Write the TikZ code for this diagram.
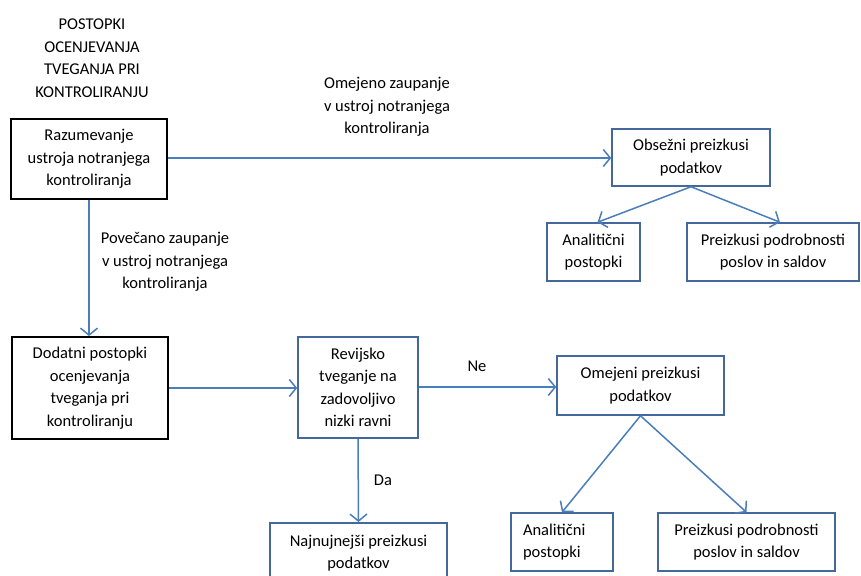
\documentclass[tikz,border=0pt]{standalone}
\usepackage{fontspec}
\setmainfont{Carlito}
\usetikzlibrary{arrows.meta,calc}
\definecolor{boxblue}{RGB}{69,104,156}
\definecolor{arrblue}{RGB}{74,126,187}
\begin{document}
\begin{tikzpicture}[x=1pt,y=-1pt,
  every node/.style={font=\fontsize{16.5}{22.5}\selectfont, inner sep=0pt},
  blackbox/.style={draw=black, line width=1.8pt, fill=white, align=center, minimum width=#1},
  bluebox/.style={draw=boxblue, line width=1.5pt, fill=white, align=center},
  lbl/.style={align=center},
  conn/.style={draw=arrblue, line width=1.5pt, -{Straight Barb[length=7pt,width=17pt,line width=1.5pt]}}
]
\useasboundingbox (0,0) rectangle (861,575);
\clip (0,0) rectangle (861,575);
\fill[white] (0,0) rectangle (861,575);

\node[lbl] (title) at (92,58) {POSTOPKI\\OCENJEVANJA\\TVEGANJA PRI\\KONTROLIRANJU};

\node[blackbox=156pt, minimum height=80pt] (raz) at (89,159) {Razumevanje\\ustroja notranjega\\kontroliranja};
\node[bluebox, minimum width=158pt, minimum height=57pt] (obs) at (691,157.5) {Obsežni preizkusi\\podatkov};
\node[bluebox, minimum width=93pt, minimum height=58pt] (an1) at (593.5,252) {Analitični\\postopki};
\node[bluebox, minimum width=172pt, minimum height=58pt] (pp1) at (773,252) {Preizkusi podrobnosti\\poslov in saldov};

\node[blackbox=156pt, minimum height=102pt] (dod) at (90,388) {Dodatni postopki\\ocenjevanja\\tveganja pri\\kontroliranju};
\node[bluebox, minimum width=120pt, minimum height=101pt] (rev) at (358,387.5) {Revijsko\\tveganje na\\zadovoljivo\\nizki ravni};
\node[bluebox, minimum width=167pt, minimum height=59pt] (omj) at (640.5,385.5) {Omejeni preizkusi\\podatkov};
\node[bluebox, text width=78pt, inner xsep=12pt, minimum height=58pt, align=left] (an2) at (562,542) {Analitični\\postopki};
\node[bluebox, minimum width=177pt, minimum height=58pt] (pp2) at (746.5,542) {Preizkusi podrobnosti\\poslov in saldov};
\node[bluebox, minimum width=177pt, minimum height=68pt, anchor=north, text depth=0pt] (naj) at (358.5,522) {};
\node[lbl] (najt) at (358.5,553) {Najnujnejši preizkusi\\podatkov};

\node[lbl] (l1) at (387,107) {Omejeno zaupanje\\v ustroj notranjega\\kontroliranja};
\node[lbl] (l2) at (165,262) {Povečano zaupanje\\v ustroj notranjega\\kontroliranja};
\node (ne) at (477,366) {Ne};
\node (da) at (383,480) {Da};

\draw[conn] (raz.east |- 0,158) -- (obs.west |- 0,158);
\draw[conn] (obs.south) -- ([xshift=4pt]an1.north);
\draw[conn] (obs.south) -- ([xshift=7pt]pp1.north);
\draw[conn] (raz.south) -- (raz.south |- dod.north);
\draw[conn] (dod.east |- 0,388) -- (rev.west |- 0,388);
\draw[conn] (rev.east |- 0,387) -- (omj.west |- 0,387);
\draw[conn] (rev.south) -- (naj.north);
\draw[conn] (omj.south) -- (an2.north);
\draw[conn] (omj.south) -- (pp2.north);
\end{tikzpicture}
\end{document}
